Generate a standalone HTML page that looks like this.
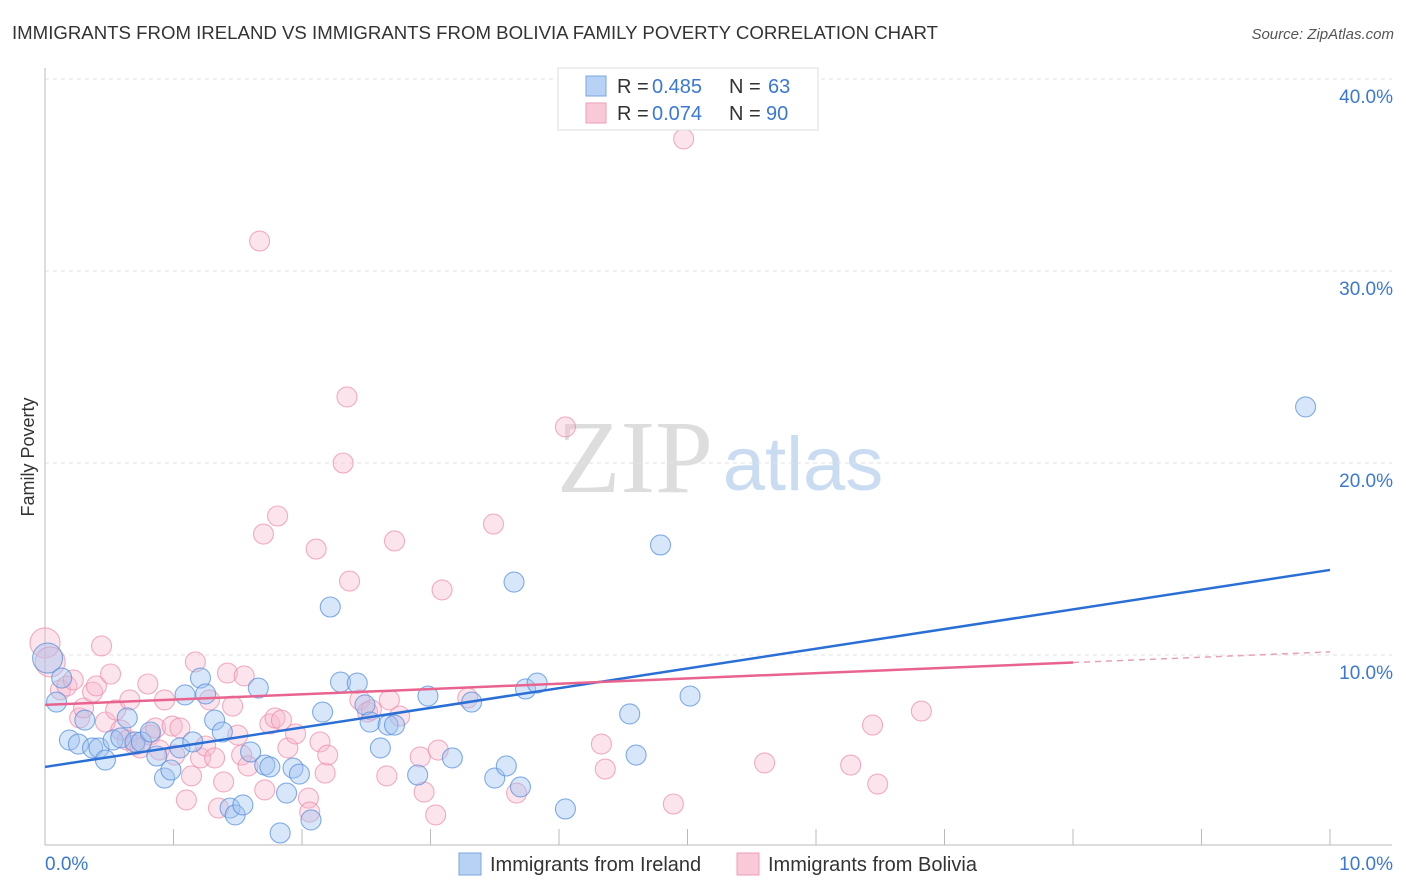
<!DOCTYPE html>
<html><head><meta charset="utf-8">
<style>
body{margin:0;background:#fff;font-family:"Liberation Sans",sans-serif;}
#wrap{position:relative;width:1406px;height:892px;overflow:hidden;}
</style></head>
<body>
<div id="wrap">
<svg id="svg" width="1406" height="892" xmlns="http://www.w3.org/2000/svg">
<text x="12" y="39" font-size="18" fill="#333" textLength="926" lengthAdjust="spacingAndGlyphs">IMMIGRANTS FROM IRELAND VS IMMIGRANTS FROM BOLIVIA FAMILY POVERTY CORRELATION CHART</text>
<text x="1394" y="39" font-size="15" fill="#555" font-style="italic" text-anchor="end">Source: ZipAtlas.com</text>
<text x="34" y="457" font-size="18" fill="#333" transform="rotate(-90 34 457)" text-anchor="middle">Family Poverty</text>
<g>
<text x="635" y="492" font-size="104" fill="#ddd" font-family="Liberation Serif" text-anchor="middle">ZIP</text>
<text x="803" y="490" font-size="76" fill="#c9dcf2" text-anchor="middle">atlas</text>
</g>
<g id="grid"></g><g id="pts"></g><g id="lines"></g>
<g>
<rect x="558" y="68" width="260" height="62" fill="#fff" stroke="#ddd"/>
<rect x="586" y="76" width="20" height="20" fill="#b8d2f5" stroke="#7aa6e0"/>
<rect x="586" y="103" width="20" height="20" fill="#f9c9d8" stroke="#ee9fb8"/>
<text x="617" y="93" font-size="20" fill="#333">R =</text>
<text x="652" y="93" font-size="20" fill="#3a78d4">0.485</text>
<text x="729" y="93" font-size="20" fill="#333">N =</text>
<text x="768" y="93" font-size="20" fill="#3a78d4">63</text>
<text x="617" y="120" font-size="20" fill="#333">R =</text>
<text x="652" y="120" font-size="20" fill="#3a78d4">0.074</text>
<text x="729" y="120" font-size="20" fill="#333">N =</text>
<text x="766" y="120" font-size="20" fill="#3a78d4">90</text>
</g>
<g>
<rect x="459" y="853" width="22" height="22" fill="#b8d2f5" stroke="#7aa6e0"/>
<text x="490" y="871" font-size="20" fill="#333">Immigrants from Ireland</text>
<rect x="737" y="853" width="22" height="22" fill="#f9c9d8" stroke="#ee9fb8"/>
<text x="768" y="871" font-size="20" fill="#333">Immigrants from Bolivia</text>
</g>
</svg>
</div>
<script>
const yTicks=[10,20,30,40];
const yTickLabels=["10.0%","20.0%","30.0%","40.0%"];
const xTickLabels=["0.0%","10.0%"];
const blueX=[0.02,0.09,0.13,0.19,0.26,0.31,0.37,0.42,0.47,0.53,0.59,0.64,0.70,0.75,0.82,0.87,0.93,0.98,1.05,1.09,1.15,1.21,1.25,1.32,1.38,1.44,1.48,1.54,1.60,1.66,1.71,1.75,1.83,1.88,1.93,1.98,2.07,2.16,2.22,2.30,2.43,2.49,2.53,2.61,2.67,2.72,2.90,2.98,3.17,3.32,3.50,3.59,3.65,3.70,3.74,3.83,4.05,4.55,4.60,4.79,5.02,9.81];
const blueY=[9.84,7.55,8.80,5.57,5.36,6.61,5.16,5.16,4.53,5.57,5.68,6.72,5.47,5.47,5.99,4.74,3.59,4.01,5.16,7.92,5.47,8.80,7.97,6.61,5.99,2.03,1.67,2.19,4.95,8.28,4.27,4.17,0.73,2.81,4.11,3.80,1.41,7.03,12.50,8.59,8.54,7.40,6.51,5.16,6.35,6.35,3.75,7.86,4.64,7.55,3.59,4.22,13.80,3.13,8.23,8.54,1.98,6.93,4.79,15.73,7.86,22.92];
const pinkX=[0.00,0.04,0.12,0.17,0.22,0.27,0.30,0.37,0.40,0.44,0.47,0.51,0.55,0.59,0.64,0.66,0.70,0.74,0.80,0.82,0.86,0.89,0.93,0.99,1.01,1.05,1.10,1.14,1.17,1.21,1.25,1.28,1.32,1.35,1.39,1.42,1.46,1.50,1.53,1.55,1.58,1.67,1.70,1.71,1.75,1.79,1.81,1.84,1.89,1.95,2.05,2.06,2.11,2.14,2.18,2.20,2.32,2.35,2.37,2.45,2.51,2.54,2.66,2.68,2.72,2.76,2.92,2.95,3.04,3.06,3.09,3.29,3.49,3.67,4.05,4.33,4.36,4.89,4.97,5.60,6.27,6.44,6.48,6.82];
const pinkY=[10.63,9.64,8.18,8.39,8.70,6.72,7.24,8.07,8.39,10.47,6.51,9.01,7.14,6.09,5.57,7.66,5.31,5.16,8.49,5.83,6.20,5.05,7.66,6.30,4.79,6.20,2.45,3.70,9.64,4.64,5.26,7.66,4.64,2.03,3.39,9.06,7.34,5.83,4.79,8.91,4.22,31.56,16.30,2.97,6.41,6.72,17.24,6.61,5.16,5.89,2.55,1.82,15.52,5.47,3.85,4.79,20.00,23.44,13.85,7.66,7.03,7.14,3.70,7.66,15.94,6.82,4.69,2.86,1.67,5.05,13.39,7.76,16.82,2.81,21.88,5.36,4.06,2.24,36.88,4.38,4.27,6.35,3.28,7.08];
const blueFit=[4.17,14.43];
const pinkFit=[7.40,10.16];
const pinkSolidEnd=8;

const NS="http://www.w3.org/2000/svg";
const X0=45,X1=1330,Y0=847,PX=19.2;
const ax=v=>X0+(v/10)*(X1-X0);
const ay=v=>Y0-v*PX;
function mk(tag,attrs,parent){const e=document.createElementNS(NS,tag);for(const k in attrs)e.setAttribute(k,attrs[k]);parent.appendChild(e);return e;}
const grid=document.getElementById('grid'),pts=document.getElementById('pts'),lines=document.getElementById('lines');
yTicks.forEach((t,i)=>{
 const l=mk('line',{x1:45,x2:1392,y1:ay(t),y2:ay(t),stroke:'#e2e2e2','stroke-dasharray':'4,4'},grid);
 
 
 const tx=mk('text',{x:1393,y:ay(t)+24,'font-size':19,fill:'#3a78d4','text-anchor':'end'},grid);
 tx.textContent=yTickLabels[i];
 
 
});
const ya=mk('line',{x1:45,x2:45,y1:68,y2:845,stroke:'#bbb'},grid);


const xa=mk('line',{x1:45,x2:1392,y1:845,y2:845,stroke:'#bbb'},grid);


for(let i=1;i<=10;i++){const t=mk('line',{x1:ax(i),x2:ax(i),y1:829,y2:845,stroke:'#bbb'},grid);
 
 }
[[0,'start',45],[10,'end',1393]].forEach((d,i)=>{const t=mk('text',{x:d[2],y:870,'font-size':19,fill:'#3a78d4','text-anchor':d[1]},grid);t.textContent=xTickLabels[i];
 
 });
function dots(xs,ys,fill,stroke,name){xs.forEach((x,i)=>{const r=(x<0.05)?15:10;
 const c=mk('circle',{cx:ax(x),cy:ay(ys[i]),r:r,fill:fill,stroke:stroke,'stroke-width':1.1},pts);
 
 });}
dots(pinkX,pinkY,'rgba(248,185,205,0.38)','rgba(236,140,170,0.7)','bolivia-point');
dots(blueX,blueY,'rgba(160,196,240,0.42)','rgba(80,140,220,0.7)','ireland-point');
const bl=mk('line',{x1:ax(0),y1:ay(blueFit[0]),x2:ax(10),y2:ay(blueFit[1]),stroke:'#2a6fd6','stroke-width':2.5},lines);


const pAt=x=>pinkFit[0]+(pinkFit[1]-pinkFit[0])*x/10;
const pl=mk('line',{x1:ax(0),y1:ay(pAt(0)),x2:ax(pinkSolidEnd),y2:ay(pAt(pinkSolidEnd)),stroke:'#e8648f','stroke-width':2.5},lines);


const pd=mk('line',{x1:ax(pinkSolidEnd),y1:ay(pAt(pinkSolidEnd)),x2:ax(10),y2:ay(pAt(10)),stroke:'#e8a0b8','stroke-width':1.5,'stroke-dasharray':'6,5'},lines);


</script>
</body></html>
